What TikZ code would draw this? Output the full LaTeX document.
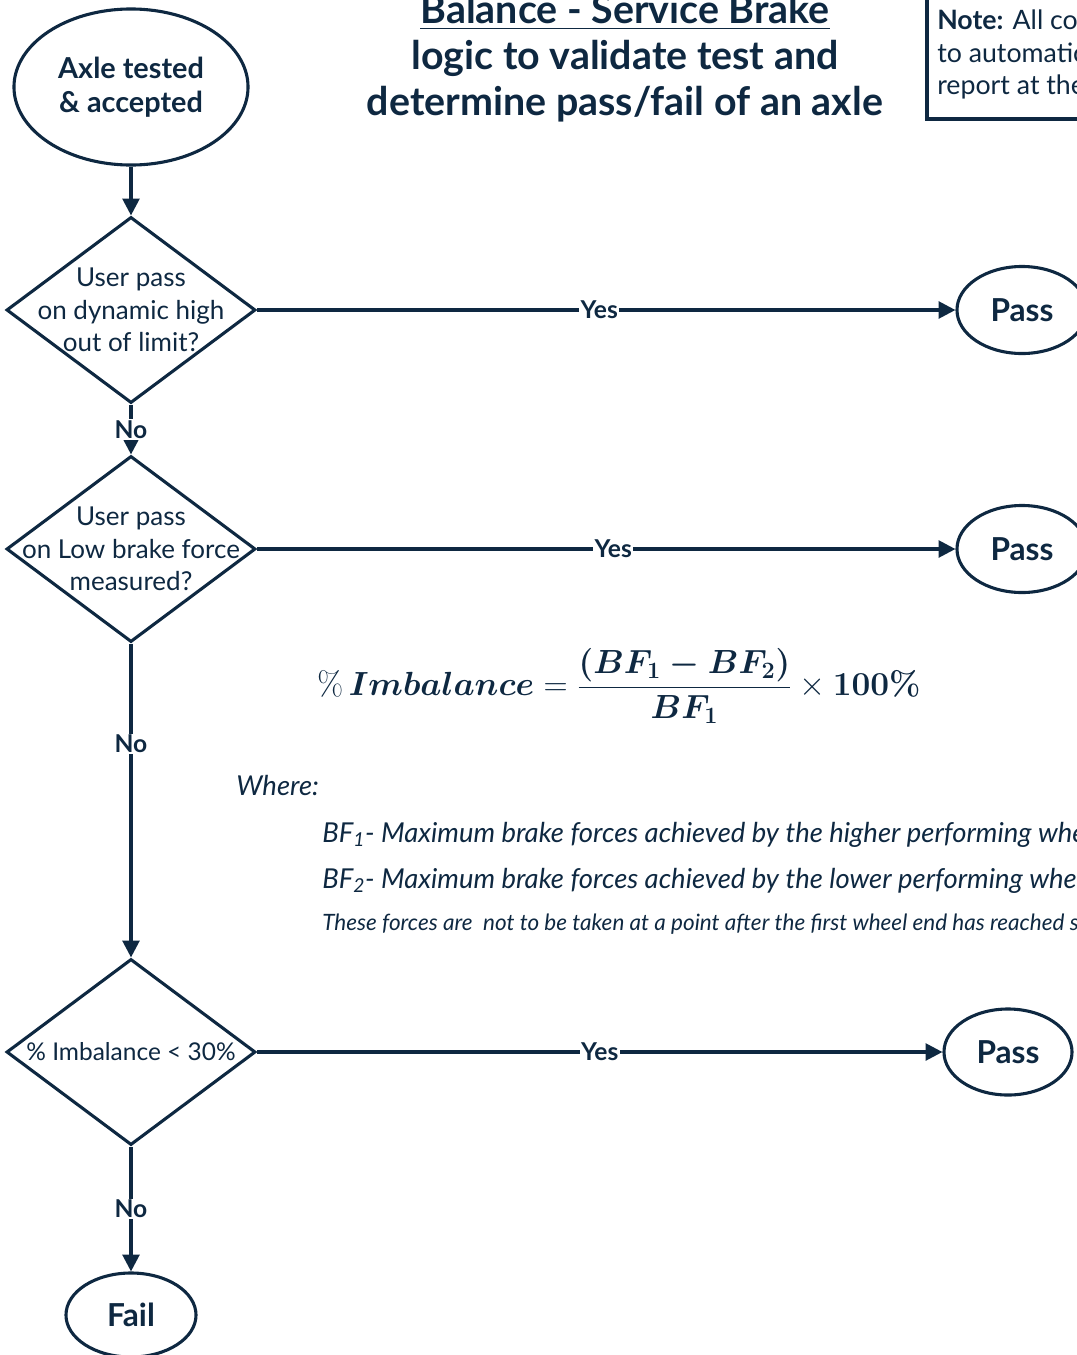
\RequirePackage{fix-cm}
\documentclass[tikz,border=0pt]{standalone}
\usepackage[no-math]{fontspec}
\setmainfont{Lato}
\usepackage{amsmath}
\usetikzlibrary{shapes.geometric,arrows.meta}
\definecolor{brakeblue}{HTML}{0E2841}

\begin{document}
\begin{tikzpicture}[x=0.025cm,y=-0.025cm,
    every node/.style={text=brakeblue},
    terminal/.style={ellipse,draw=brakeblue,line width=2.2pt,inner sep=0pt,
        font=\bfseries\fontsize{22.5}{25}\selectfont,align=center},
    decision/.style={diamond,draw=brakeblue,line width=2.2pt,inner sep=0pt,
        minimum width=6.225cm,minimum height=4.65cm},
    question/.style={align=center,font=\fontsize{18.5}{23}\selectfont},
    flow/.style={draw=brakeblue,line width=2.2pt,-{Triangle[length=12pt,width=12pt]}},
    answer/.style={fill=white,inner sep=1pt,font=\bfseries\fontsize{17.5}{19}\selectfont},
    where/.style={anchor=base west,inner sep=0pt,font=\itshape\fontsize{19.5}{22}\selectfont}]
    \useasboundingbox (0,0) rectangle (1077,1355);

    % title and note
    \node (title) [align=center,font=\bfseries\fontsize{28}{32.7}\selectfont] at (625,58)
        {\underline{Balance - Service Brake}\\logic to validate test and\\determine pass/fail of an axle};
    \draw [brakeblue, line width=2.2pt] (927,-10) rectangle (1100,119);
    \node (note) [anchor=north west,align=left,inner sep=0pt,font=\fontsize{19}{23.1}\selectfont] at (937,10)
        {\textbf{Note:} All con\\to automatic\\report at the};

    % flow
    \node (start) [terminal,font=\bfseries\fontsize{20.5}{24.5}\selectfont,
        minimum width=5.85cm,minimum height=3.9cm] at (131,87) {Axle tested\\\& accepted};
    \node (dyn) [decision,label={[question]center:User pass\\on dynamic high\\out of limit?}] at (131,310) {};
    \node (low) [decision,label={[question]center:User pass\\on Low brake force\\measured?}] at (131,549) {};
    \node (imb) [decision,label={[question,font=\fontsize{17.4}{20}\selectfont]center:\% Imbalance < 30\%}] at (131,1052) {};
    \node (pass1) [terminal,minimum width=3.25cm,minimum height=2.175cm] at (1022,310) {Pass};
    \node (pass2) [terminal,minimum width=3.25cm,minimum height=2.175cm] at (1022,549) {Pass};
    \node (pass3) [terminal,minimum width=3.2cm,minimum height=2.15cm] at (1008,1052) {Pass};
    \node (fail) [terminal,minimum width=3.25cm,minimum height=2.1cm] at (131,1315) {Fail};

    \draw [flow] (start) -- (dyn);
    \draw [flow] (dyn) -- node [answer,pos=0.49] {Yes} (pass1);
    \draw [flow] (dyn) -- node [answer] {No} (low);
    \draw [flow] (low) -- node [answer,pos=0.51] {Yes} (pass2);
    \draw [flow] (low) -- node [answer,pos=0.32] {No} (imb);
    \draw [flow] (imb) -- node [answer] {Yes} (pass3);
    \draw [flow] (imb) -- node [answer] {No} (fail);

    % formula and key
    \node (formula) [font=\fontsize{23.8}{28}\selectfont] at (619,686)
        {$\displaystyle \%\,\boldsymbol{Imbalance} = \frac{\boldsymbol{(BF_1 - BF_2)}}{\boldsymbol{BF_1}}\times\boldsymbol{100\%}$};
    \node (wh) [where] at (236,795) {Where:};
    \node (bf1) [where] at (322,842) {BF\textsubscript{1}- Maximum brake forces achieved by the higher performing wheel};
    \node (bf2) [where] at (322,888) {BF\textsubscript{2}- Maximum brake forces achieved by the lower performing wheel};
    \node (forces) [where,font=\itshape\fontsize{16}{18}\selectfont] at (322,930)
        {These forces are\ \ not to be taken at a point after the first wheel end has reached s};
\end{tikzpicture}
\end{document}
